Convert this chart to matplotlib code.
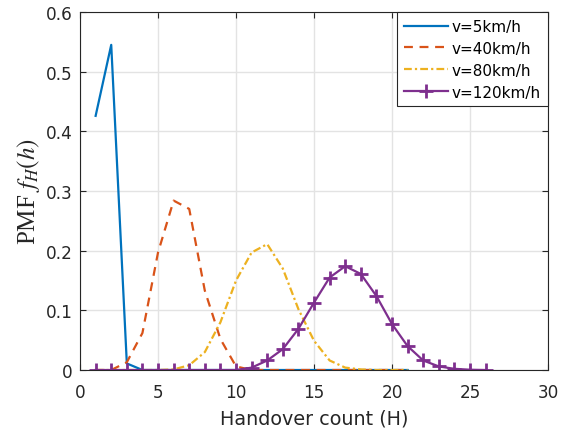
import numpy as np
import matplotlib.pyplot as plt

# Handover count PMF for several user speeds
h_short = np.arange(1, 22)
h_long = np.arange(1, 27)

pmf_5 = [0.426, 0.545, 0.011, 0.0, 0.0, 0.0, 0.0, 0.0, 0.0, 0.0, 0.0,
         0.0, 0.0, 0.0, 0.0, 0.0, 0.0, 0.0, 0.0, 0.0, 0.0]
pmf_40 = [0.0, 0.0, 0.013, 0.062, 0.197, 0.284, 0.270, 0.133, 0.052, 0.006, 0.0,
          0.0, 0.0, 0.0, 0.0, 0.0, 0.0, 0.0, 0.0, 0.0, 0.0]
pmf_80 = [0.0, 0.0, 0.0, 0.0, 0.0, 0.001, 0.008, 0.030, 0.080, 0.150, 0.197,
          0.211, 0.170, 0.102, 0.049, 0.016, 0.004, 0.001, 0.0, 0.0, 0.0]
pmf_120 = [0.0, 0.0, 0.0, 0.0, 0.0, 0.0, 0.0, 0.0, 0.0, 0.0, 0.004,
           0.016, 0.035, 0.069, 0.113, 0.155, 0.174, 0.161, 0.124, 0.077, 0.040,
           0.016, 0.006, 0.002, 0.0005, 0.0]

labels = ["v=5km/h", "v=40km/h", "v=80km/h", "v=120km/h"]
colors = ["#0072BD", "#D95319", "#EDB120", "#7E2F8E"]

plt.rcParams["font.family"] = ["DejaVu Sans"]
plt.rcParams["mathtext.fontset"] = "stix"

fig = plt.figure(figsize=(5.7, 4.35), dpi=100)
ax = fig.add_axes([0.1404, 0.1471, 0.8210, 0.8229])

ax.plot(h_short, pmf_5, "-", color=colors[0], lw=1.6, label=labels[0])
ax.plot(h_short, pmf_40, "--", color=colors[1], lw=1.6, dashes=(4, 3), label=labels[1])
ax.plot(h_short, pmf_80, "-.", color=colors[2], lw=1.6, dashes=(3.5, 1.4, 1.0, 1.4), label=labels[2])
ax.plot(h_long, pmf_120, "-", color=colors[3], lw=1.6, marker="+", ms=10, mew=2.0, label=labels[3])

ax.set_xlim(0, 30)
ax.set_ylim(0, 0.6)
ax.set_xticks(np.arange(0, 31, 5))
ax.set_yticks(np.arange(0, 0.61, 0.1))
ax.set_yticklabels(["0", "0.1", "0.2", "0.3", "0.4", "0.5", "0.6"])
ax.grid(True, color="#e3e3e3", lw=1.0)
ax.set_axisbelow(True)
ax.tick_params(direction="in", length=4, labelsize=12.2, colors="#262626", top=True, right=True)
ax.tick_params(axis="x", pad=9)
ax.tick_params(axis="y", pad=5)
for s in ax.spines.values():
    s.set_color("#262626")
    s.set_linewidth(0.8)

ax.set_xlabel("Handover count (H)", fontsize=13.8, color="#262626", labelpad=6)
ax.set_ylabel("PMF $f_H(h)$", fontsize=18, color="#262626", family="Liberation Serif", labelpad=3)

leg = ax.legend(loc="upper right", fontsize=11, frameon=True, fancybox=False,
                borderaxespad=0, handlelength=2.9, handletextpad=0.25,
                borderpad=0.45, labelspacing=0.45)
leg.get_frame().set_edgecolor("#262626")
leg.get_frame().set_linewidth(0.8)
leg.get_frame().set_alpha(1.0)

fig.savefig("out.png", dpi=100)
